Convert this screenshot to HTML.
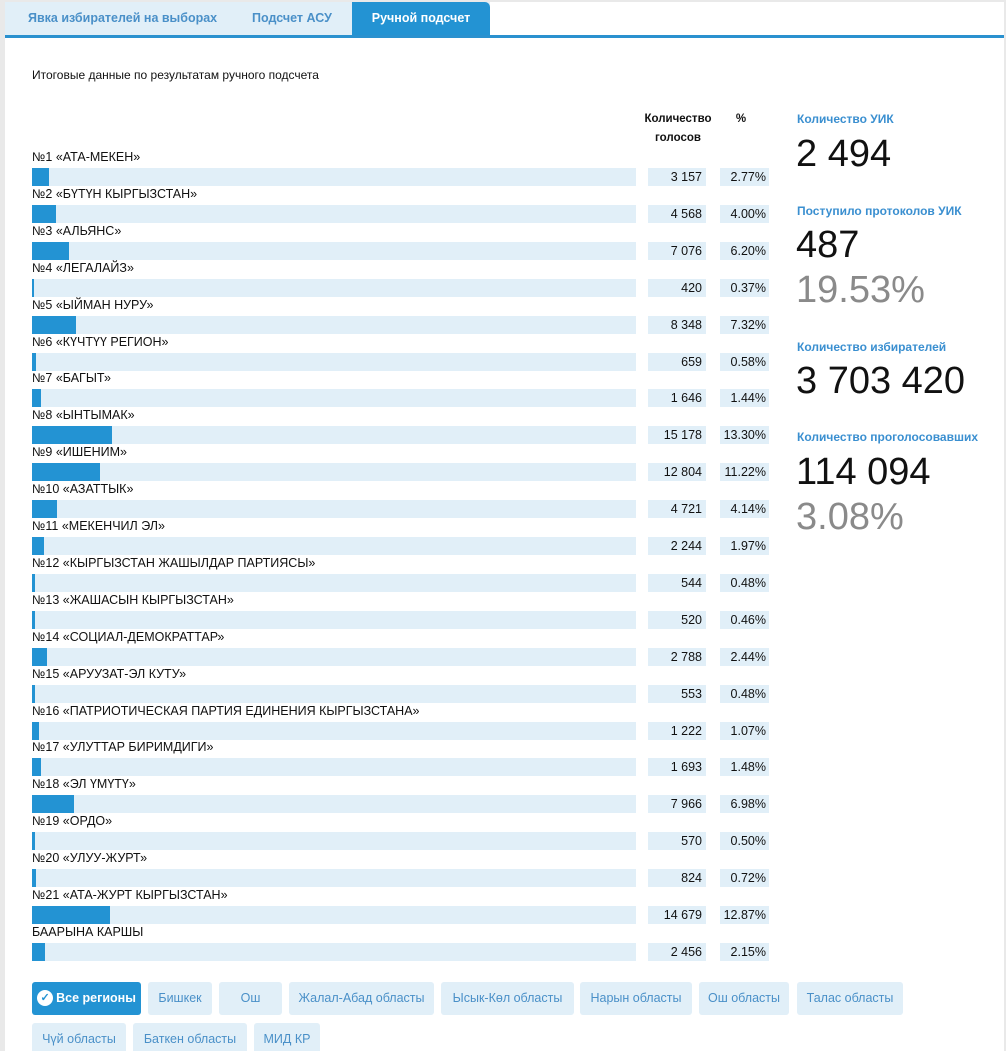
<!DOCTYPE html>
<html style="overflow:hidden;height:1051px"><head><meta charset="utf-8"><style>
*{margin:0;padding:0;box-sizing:border-box}
body{width:1006px;height:1051px;background:#e9e9e9;font-family:"Liberation Sans",sans-serif;position:relative;overflow:hidden;color:#111}
.panel{position:absolute;left:5px;top:2px;width:999px;height:1049px;background:#fff}
.tabs{position:absolute;left:5px;top:2px;height:33px;width:485px;background:#e1eff8}
.tab{position:absolute;top:2px;height:33px;line-height:33px;font-size:12.5px;font-weight:bold;color:#4a90c8}
.act{left:352px;width:138px;background:#2393d3;color:#fff;text-align:center;border-radius:0 5px 0 0}
.line{position:absolute;left:5px;top:35px;width:999px;height:3px;background:#2a91cf}
.title{position:absolute;left:32px;top:68px;font-size:12px}
.row{position:absolute;left:32px;height:37px;width:740px}
.lbl{position:absolute;left:0;top:0;font-size:12.5px;line-height:14px;white-space:nowrap}
.trk{position:absolute;left:0;top:18px;width:604px;height:18px;background:#e1eff8}
.bar{position:absolute;left:0;top:0;height:18px;background:#2393d3}
.v{position:absolute;left:616px;top:18px;width:58px;height:18px;background:#e1eff8;font-size:12.5px;line-height:18px;text-align:right;padding-right:4px}
.p{position:absolute;left:688px;top:18px;width:49px;height:18px;background:#e1eff8;font-size:12.5px;line-height:18px;text-align:right;padding-right:3px}
.h{position:absolute;font-size:11.5px;font-weight:bold;text-align:center;line-height:19px}
.sl{position:absolute;left:797px;font-size:12px;font-weight:bold;color:#3a8fd0}
.sn{position:absolute;left:796px;font-size:38px;font-weight:300;line-height:40px;color:#111}
.sg{color:#8a8a8a}
.btn{position:absolute;height:33px;line-height:33px;background:#e1eff8;color:#4a90c8;font-size:12.5px;text-align:center;border-radius:3px}
.btn.on{background:#2393d3;color:#fff;font-weight:bold}
</style></head><body>
<div class="panel"></div>
<div class="tabs"></div>
<div class="tab" style="left:28px">Явка избирателей на выборах</div>
<div class="tab" style="left:252px">Подсчет АСУ</div>
<div class="tab act">Ручной подсчет</div>
<div class="line"></div>
<div class="title">Итоговые данные по результатам ручного подсчета</div>
<div class="h" style="left:638px;top:110px;width:80px">Количество<br>голосов</div>
<div class="h" style="left:733px;top:110px;width:16px">%</div>

<div class="row" style="top:150px"><div class="lbl">№1 «АТА-МЕКЕН»</div><div class="trk"><div class="bar" style="width:16.7px"></div></div><div class="v">3 157</div><div class="p">2.77%</div></div>
<div class="row" style="top:186.9px"><div class="lbl">№2 «БҮТҮН КЫРГЫЗСТАН»</div><div class="trk"><div class="bar" style="width:24.1px"></div></div><div class="v">4 568</div><div class="p">4.00%</div></div>
<div class="row" style="top:223.8px"><div class="lbl">№3 «АЛЬЯНС»</div><div class="trk"><div class="bar" style="width:37.4px"></div></div><div class="v">7 076</div><div class="p">6.20%</div></div>
<div class="row" style="top:260.7px"><div class="lbl">№4 «ЛЕГАЛАЙЗ»</div><div class="trk"><div class="bar" style="width:2.2px"></div></div><div class="v">420</div><div class="p">0.37%</div></div>
<div class="row" style="top:297.6px"><div class="lbl">№5 «ЫЙМАН НУРУ»</div><div class="trk"><div class="bar" style="width:44.1px"></div></div><div class="v">8 348</div><div class="p">7.32%</div></div>
<div class="row" style="top:334.5px"><div class="lbl">№6 «КҮЧТҮҮ РЕГИОН»</div><div class="trk"><div class="bar" style="width:3.5px"></div></div><div class="v">659</div><div class="p">0.58%</div></div>
<div class="row" style="top:371.4px"><div class="lbl">№7 «БАГЫТ»</div><div class="trk"><div class="bar" style="width:8.7px"></div></div><div class="v">1 646</div><div class="p">1.44%</div></div>
<div class="row" style="top:408.3px"><div class="lbl">№8 «ЫНТЫМАК»</div><div class="trk"><div class="bar" style="width:80.2px"></div></div><div class="v">15 178</div><div class="p">13.30%</div></div>
<div class="row" style="top:445.2px"><div class="lbl">№9 «ИШЕНИМ»</div><div class="trk"><div class="bar" style="width:67.7px"></div></div><div class="v">12 804</div><div class="p">11.22%</div></div>
<div class="row" style="top:482.1px"><div class="lbl">№10 «АЗАТТЫК»</div><div class="trk"><div class="bar" style="width:25px"></div></div><div class="v">4 721</div><div class="p">4.14%</div></div>
<div class="row" style="top:519px"><div class="lbl">№11 «МЕКЕНЧИЛ ЭЛ»</div><div class="trk"><div class="bar" style="width:11.9px"></div></div><div class="v">2 244</div><div class="p">1.97%</div></div>
<div class="row" style="top:555.9px"><div class="lbl">№12 «КЫРГЫЗСТАН ЖАШЫЛДАР ПАРТИЯСЫ»</div><div class="trk"><div class="bar" style="width:2.9px"></div></div><div class="v">544</div><div class="p">0.48%</div></div>
<div class="row" style="top:592.8px"><div class="lbl">№13 «ЖАШАСЫН КЫРГЫЗСТАН»</div><div class="trk"><div class="bar" style="width:2.8px"></div></div><div class="v">520</div><div class="p">0.46%</div></div>
<div class="row" style="top:629.7px"><div class="lbl">№14 «СОЦИАЛ-ДЕМОКРАТТАР»</div><div class="trk"><div class="bar" style="width:14.7px"></div></div><div class="v">2 788</div><div class="p">2.44%</div></div>
<div class="row" style="top:666.6px"><div class="lbl">№15 «АРУУЗАТ-ЭЛ КУТУ»</div><div class="trk"><div class="bar" style="width:2.9px"></div></div><div class="v">553</div><div class="p">0.48%</div></div>
<div class="row" style="top:703.5px"><div class="lbl">№16 «ПАТРИОТИЧЕСКАЯ ПАРТИЯ ЕДИНЕНИЯ КЫРГЫЗСТАНА»</div><div class="trk"><div class="bar" style="width:6.5px"></div></div><div class="v">1 222</div><div class="p">1.07%</div></div>
<div class="row" style="top:740.4px"><div class="lbl">№17 «УЛУТТАР БИРИМДИГИ»</div><div class="trk"><div class="bar" style="width:8.9px"></div></div><div class="v">1 693</div><div class="p">1.48%</div></div>
<div class="row" style="top:777.3px"><div class="lbl">№18 «ЭЛ ҮМҮТҮ»</div><div class="trk"><div class="bar" style="width:42.1px"></div></div><div class="v">7 966</div><div class="p">6.98%</div></div>
<div class="row" style="top:814.2px"><div class="lbl">№19 «ОРДО»</div><div class="trk"><div class="bar" style="width:3px"></div></div><div class="v">570</div><div class="p">0.50%</div></div>
<div class="row" style="top:851.1px"><div class="lbl">№20 «УЛУУ-ЖУРТ»</div><div class="trk"><div class="bar" style="width:4.3px"></div></div><div class="v">824</div><div class="p">0.72%</div></div>
<div class="row" style="top:888px"><div class="lbl">№21 «АТА-ЖУРТ КЫРГЫЗСТАН»</div><div class="trk"><div class="bar" style="width:77.6px"></div></div><div class="v">14 679</div><div class="p">12.87%</div></div>
<div class="row" style="top:924.9px"><div class="lbl">БААРЫНА КАРШЫ</div><div class="trk"><div class="bar" style="width:13px"></div></div><div class="v">2 456</div><div class="p">2.15%</div></div>

<div class="sl" style="top:112px">Количество УИК</div>
<div class="sn" style="top:134px">2 494</div>
<div class="sl" style="top:204px">Поступило протоколов УИК</div>
<div class="sn" style="top:225px">487</div>
<div class="sn sg" style="top:270px">19.53%</div>
<div class="sl" style="top:340px">Количество избирателей</div>
<div class="sn" style="top:361px">3 703 420</div>
<div class="sl" style="top:430px">Количество проголосовавших</div>
<div class="sn" style="top:452px">114 094</div>
<div class="sn sg" style="top:497px">3.08%</div>

<div class="btn on" style="left:32px;top:982px;width:109px"><span style="display:inline-block;width:16px;height:16px;border-radius:50%;background:#fff;color:#2393d3;font-size:11px;line-height:16px;vertical-align:middle;margin-right:3px;position:relative;top:-1px">✓</span>Все регионы</div>
<div class="btn" style="left:148px;top:982px;width:64px">Бишкек</div>
<div class="btn" style="left:219px;top:982px;width:63px">Ош</div>
<div class="btn" style="left:289px;top:982px;width:145px">Жалал-Абад областы</div>
<div class="btn" style="left:441px;top:982px;width:133px">Ысык-Көл областы</div>
<div class="btn" style="left:580px;top:982px;width:112px">Нарын областы</div>
<div class="btn" style="left:699px;top:982px;width:90px">Ош областы</div>
<div class="btn" style="left:797px;top:982px;width:106px">Талас областы</div>
<div class="btn" style="left:32px;top:1023px;width:94px">Чүй областы</div>
<div class="btn" style="left:133px;top:1023px;width:114px">Баткен областы</div>
<div class="btn" style="left:254px;top:1023px;width:66px">МИД КР</div>
</body></html>
